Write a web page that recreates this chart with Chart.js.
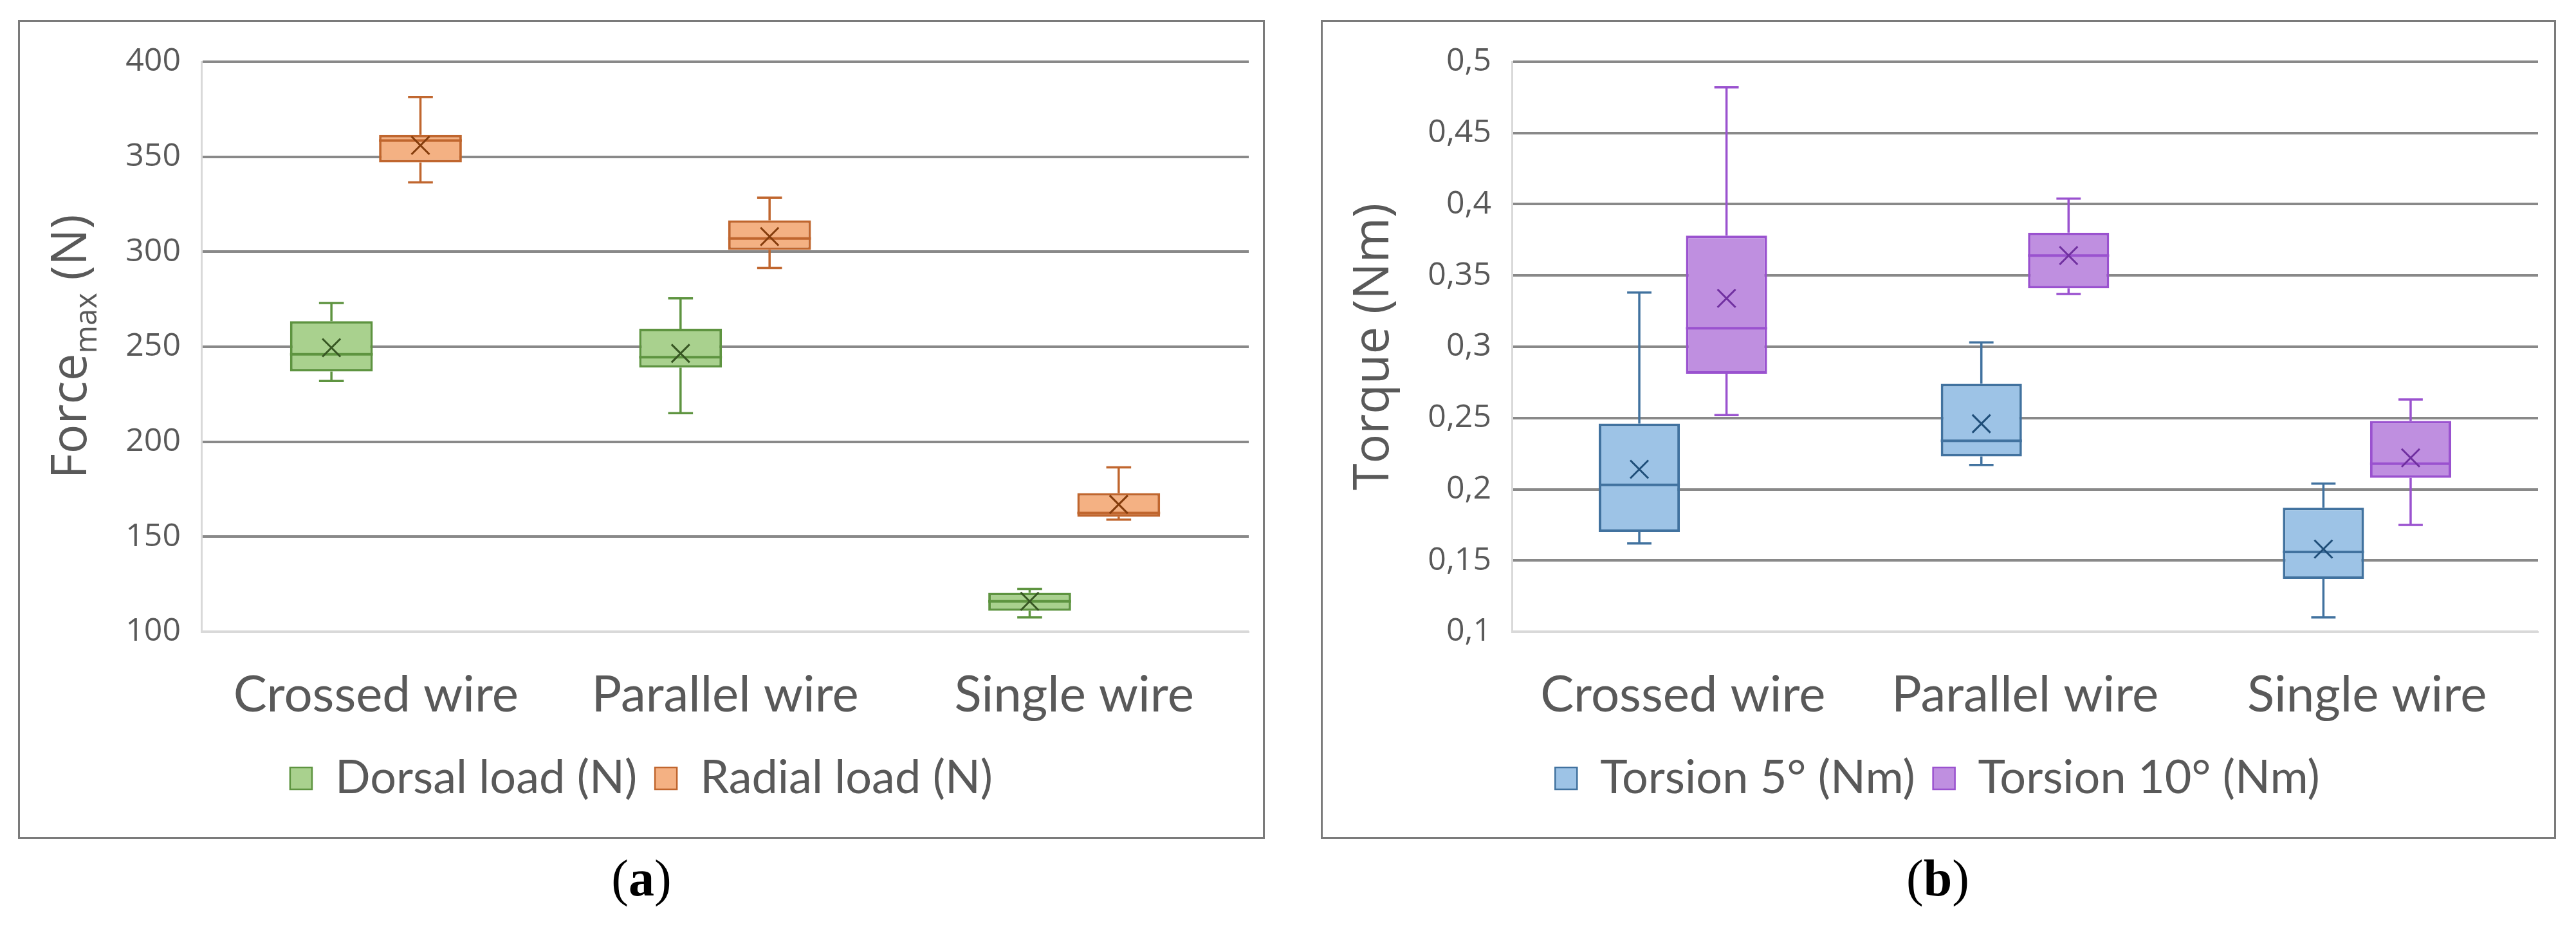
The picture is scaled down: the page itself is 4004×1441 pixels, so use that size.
<!DOCTYPE html>
<html>
<head>
<meta charset="utf-8">
<script src="https://cdn.jsdelivr.net/npm/chart.js@4.4.0/dist/chart.umd.min.js"></script>
<style>
    body { margin: 0; background: #fff; width: 4004px; height: 1441px; position: relative; overflow: hidden; }
    .panel { position: absolute; top: 31px; height: 1273px; border: 3px solid #7b7b7b; box-sizing: border-box; }
    #panelA { left: 28px; width: 1938px; }
    #panelB { left: 2053px; width: 1920px; }
    .panel canvas { display: block; }
    .caption { position: absolute; top: 1320px; font-family: "Liberation Serif", serif; font-size: 80px; line-height: 90px; transform: translateX(-50%); color: #000; }
</style>
</head>
<body>
<div class="panel" id="panelA"><canvas id="chartA" width="1932" height="1267"></canvas></div>
<div class="panel" id="panelB"><canvas id="chartB" width="1914" height="1267"></canvas></div>
<div class="caption" style="left:997px">(<b>a</b>)</div>
<div class="caption" style="left:3012px">(<b>b</b>)</div>
<script>
// Categories
const categories = ["Crossed wire", "Parallel wire", "Single wire"];

// (a) Dorsal load (N)
const dorsalMin = [232, 215, 107.5];
const dorsalQ1 = [237, 239, 111];
const dorsalMedian = [246, 244.5, 116];
const dorsalQ3 = [263.5, 259.5, 120.5];
const dorsalMax = [273, 275.5, 122.5];
const dorsalMean = [249.5, 246.5, 116];

// (a) Radial load (N)
const radialMin = [336.5, 291.5, 159];
const radialQ1 = [347, 301, 160.5];
const radialMedian = [358.5, 307, 162.5];
const radialQ3 = [361.5, 316.5, 173];
const radialMax = [381.5, 328.5, 186.5];
const radialMean = [356, 308, 167];

// (b) Torsion 5° (Nm)
const t5Min = [0.162, 0.217, 0.110];
const t5Q1 = [0.170, 0.223, 0.137];
const t5Median = [0.203, 0.234, 0.156];
const t5Q3 = [0.246, 0.274, 0.187];
const t5Max = [0.338, 0.303, 0.204];
const t5Mean = [0.214, 0.246, 0.158];

// (b) Torsion 10° (Nm)
const t10Min = [0.252, 0.337, 0.175];
const t10Q1 = [0.281, 0.341, 0.208];
const t10Median = [0.313, 0.364, 0.218];
const t10Q3 = [0.378, 0.380, 0.248];
const t10Max = [0.482, 0.404, 0.263];
const t10Mean = [0.334, 0.364, 0.222];

const forceTicks = { min: 100, max: 400, step: 50 };
const torqueTicks = { min: 0.1, max: 0.5, step: 0.05 };

const textGrey = "#595959";

function boxDataset(label, q1, q3, median, min, max, mean, fill, border, meanColor) {
    return {
        label: label,
        data: q1.map((v, i) => [v, q3[i]]),
        median: median,
        whiskerMin: min,
        whiskerMax: max,
        mean: mean,
        meanColor: meanColor,
        backgroundColor: fill,
        borderColor: border,
        borderWidth: 4,
        borderSkipped: false,
        categoryPercentage: 0.51,
        barPercentage: 0.93
    };
}

// whiskers, median line and mean cross for each box
const boxPlotParts = {
    id: "boxPlotParts",
    afterDatasetsDraw(chart) {
        const ctx = chart.ctx;
        const y = chart.scales.y;
        chart.data.datasets.forEach((ds, i) => {
            chart.getDatasetMeta(i).data.forEach((bar, j) => {
                const x = bar.x;
                const half = bar.width / 2;
                const cap = bar.width * 0.15;
                const yQ1 = y.getPixelForValue(ds.data[j][0]);
                const yQ3 = y.getPixelForValue(ds.data[j][1]);
                const yMin = y.getPixelForValue(ds.whiskerMin[j]);
                const yMax = y.getPixelForValue(ds.whiskerMax[j]);
                const yMed = y.getPixelForValue(ds.median[j]);
                const yMean = y.getPixelForValue(ds.mean[j]);
                ctx.save();
                ctx.strokeStyle = ds.borderColor;
                ctx.lineWidth = 3.5;
                ctx.beginPath();
                ctx.moveTo(x, yQ3); ctx.lineTo(x, yMax);
                ctx.moveTo(x - cap, yMax); ctx.lineTo(x + cap, yMax);
                ctx.moveTo(x, yQ1); ctx.lineTo(x, yMin);
                ctx.moveTo(x - cap, yMin); ctx.lineTo(x + cap, yMin);
                ctx.stroke();
                ctx.lineWidth = 4;
                ctx.beginPath();
                ctx.moveTo(x - half, yMed); ctx.lineTo(x + half, yMed);
                ctx.stroke();
                const m = 14;
                ctx.strokeStyle = ds.meanColor;
                ctx.lineWidth = 3;
                ctx.beginPath();
                ctx.moveTo(x - m, yMean - m); ctx.lineTo(x + m, yMean + m);
                ctx.moveTo(x - m, yMean + m); ctx.lineTo(x + m, yMean - m);
                ctx.stroke();
                ctx.restore();
            });
        });
    }
};

// rotated y title, with optional subscript part
const axisTitle = {
    id: "axisTitle",
    afterDraw(chart, args, opts) {
        const ctx = chart.ctx;
        const area = chart.chartArea;
        const size = opts.size;
        const subSize = Math.round(size * 0.62);
        ctx.save();
        ctx.translate(opts.x, (area.top + area.bottom) / 2);
        ctx.rotate(-Math.PI / 2);
        ctx.fillStyle = textGrey;
        ctx.textBaseline = "alphabetic";
        let total = 0;
        opts.parts.forEach(p => {
            ctx.font = (p.sub ? subSize : size) + 'px "Open Sans"';
            p.w = ctx.measureText(p.text).width;
            total += p.w;
        });
        let cx = -total / 2;
        const base = size * 0.357;
        opts.parts.forEach(p => {
            ctx.font = (p.sub ? subSize : size) + 'px "Open Sans"';
            ctx.fillText(p.text, cx, base + (p.sub ? 16 : 0));
            cx += p.w;
        });
        ctx.restore();
    }
};

function chartOptions(ticks, yWidth, pad, titleX, titleParts, fmt) {
    return {
        responsive: false,
        devicePixelRatio: 1,
        animation: false,
        layout: { padding: pad },
        plugins: {
            legend: {
                position: "bottom",
                labels: {
                    color: textGrey,
                    font: { family: "Lato", size: 72 },
                    boxWidth: 34,
                    boxHeight: 34,
                    padding: 28,
                    generateLabels: chart => Chart.defaults.plugins.legend.labels.generateLabels(chart)
                        .map(l => Object.assign(l, { lineWidth: 2.5 }))
                }
            },
            tooltip: { enabled: false },
            axisTitle: { x: titleX, size: 76, parts: titleParts }
        },
        scales: {
            x: {
                grid: { display: false },
                border: { display: true, color: "#d9d9d9", width: 3 },
                ticks: { color: textGrey, font: { family: "Lato", size: 78 }, padding: 44 },
                afterFit: s => { s.height = 164; }
            },
            y: {
                min: ticks.min,
                max: ticks.max,
                border: { display: true, color: "#d9d9d9", width: 3 },
                grid: {
                    drawTicks: false,
                    lineWidth: 4,
                    color: c => Math.abs(c.tick.value - ticks.min) < 1e-9 ? "#d9d9d9" : "#898989"
                },
                ticks: {
                    stepSize: ticks.step,
                    color: textGrey,
                    font: { family: "Open Sans", size: 50 },
                    padding: 32,
                    callback: fmt
                },
                afterFit: s => { s.width = yWidth; }
            }
        }
    };
}

new Chart(document.getElementById("chartA"), {
    type: "bar",
    data: {
        labels: categories,
        datasets: [
            boxDataset("Dorsal load (N)", dorsalQ1, dorsalQ3, dorsalMedian, dorsalMin, dorsalMax, dorsalMean,
                "#a9d18e", "#5e9440", "#375623"),
            boxDataset("Radial load (N)", radialQ1, radialQ3, radialMedian, radialMin, radialMax, radialMean,
                "#f4b183", "#c0662e", "#843c0c")
        ]
    },
    options: chartOptions(forceTicks, 260, { left: 22, right: 22, top: 56, bottom: 45 }, 76,
        [{ text: "Force" }, { text: "max", sub: true }, { text: " (N)" }],
        v => String(v)),
    plugins: [boxPlotParts, axisTitle]
});

new Chart(document.getElementById("chartB"), {
    type: "bar",
    data: {
        labels: categories,
        datasets: [
            boxDataset("Torsion 5° (Nm)", t5Q1, t5Q3, t5Median, t5Min, t5Max, t5Mean,
                "#9dc3e6", "#41729f", "#1f4e79"),
            boxDataset("Torsion 10° (Nm)", t10Q1, t10Q3, t10Median, t10Min, t10Max, t10Mean,
                "#bf8fe0", "#9a52cf", "#7030a0")
        ]
    },
    options: chartOptions(torqueTicks, 272, { left: 22, right: 25, top: 62, bottom: 45 }, 75,
        [{ text: "Torque (Nm)" }],
        v => String(Number(v.toFixed(2))).replace(".", ",")),
    plugins: [boxPlotParts, axisTitle]
});
</script>
</body>
</html>
